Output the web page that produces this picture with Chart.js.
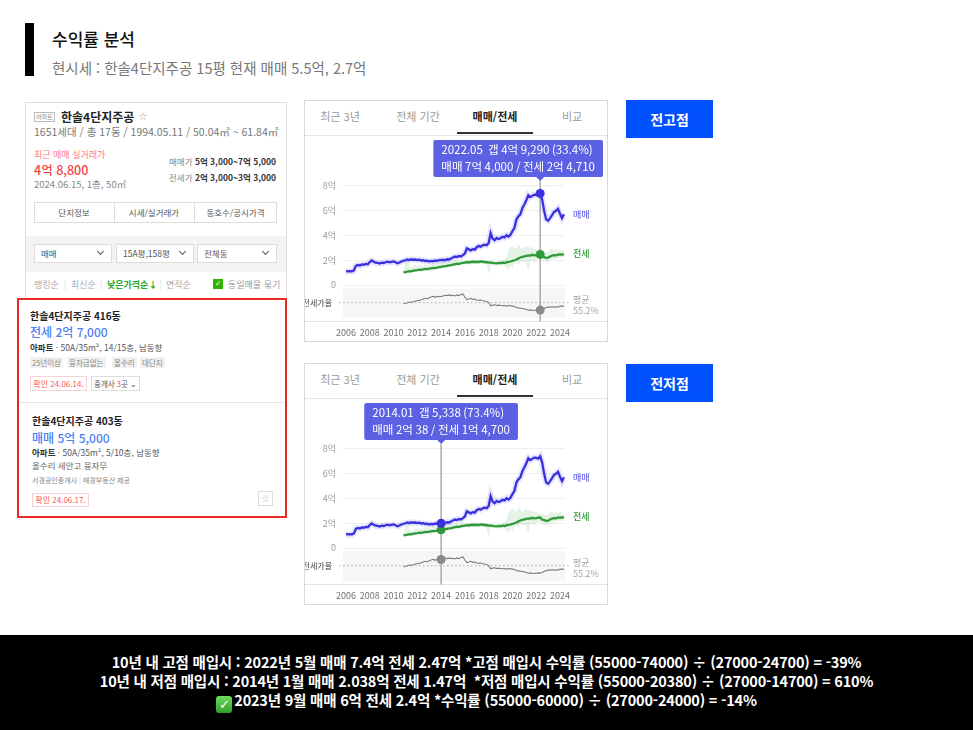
<!DOCTYPE html>
<html lang="ko"><head><meta charset="utf-8">
<script src="https://cdn.jsdelivr.net/npm/chart.js@4.4.1/dist/chart.umd.min.js"></script>
<style>
*{box-sizing:border-box;}
html,body{margin:0;padding:0;}
body{width:973px;height:730px;position:relative;overflow:hidden;background:#fff;font-family:'Noto Sans CJK KR','Noto Sans',sans-serif;color:#222;}
.a{position:absolute;white-space:nowrap;line-height:1;}
.card{position:absolute;left:304px;width:304px;height:242px;border:1px solid #d9d9d9;background:#fff;}
.tab{position:absolute;top:10px;width:80px;margin-left:-40px;text-align:center;font-size:11px;color:#9a9a9a;line-height:1;}
.tab.on{color:#222;font-weight:700;}
.uline{position:absolute;left:152px;top:31px;width:76px;height:2px;background:#333;}
.tsep{position:absolute;left:0;top:34px;width:100%;height:1px;background:#e6e6e6;}
.card canvas{position:absolute;left:0;top:36px;}
.btn{position:absolute;left:626px;width:87px;height:38px;background:#0050ff;color:#fff;font-weight:700;font-size:14px;line-height:38px;text-align:center;}
.box{position:absolute;border:1px solid #ddd;background:#fff;}
.sel{position:absolute;top:244px;height:19px;border:1px solid #ddd;background:#fff;font-size:8.5px;color:#555;line-height:17px;padding-left:6px;}
.chev{position:absolute;right:8px;top:4px;width:5px;height:5px;border-right:1.3px solid #555;border-bottom:1.3px solid #555;transform:rotate(45deg);}
.tag{position:absolute;top:357px;height:11px;background:#f1f1f1;color:#888;font-size:7.5px;line-height:11px;padding:0 2px;}
.bl{position:absolute;left:0;width:973px;text-align:center;color:#fff;font-weight:700;font-size:14.5px;line-height:1;letter-spacing:-0.2px;}
</style></head><body>

<!-- header -->
<div class="a" style="left:25px;top:23px;width:9px;height:53px;background:#000;"></div>
<div class="a" style="left:52px;top:29.5px;font-size:17px;font-weight:500;color:#111;">수익률 분석</div>
<div class="a" style="left:52px;top:60.5px;font-size:14.5px;color:#777;">현시세 : 한솔4단지주공 15평 현재 매매 5.5억, 2.7억</div>

<!-- left listing card -->
<div class="a" style="left:25px;top:102px;width:262px;height:416px;border:1px solid #ddd;background:#fff;"></div>
<div class="a" style="left:34px;top:112px;width:21px;height:10px;border:1px solid #bbb;font-size:6px;line-height:8px;color:#888;text-align:center;">아파트</div>
<div class="a" style="left:61px;top:111px;font-size:12px;font-weight:700;color:#222;">한솔4단지주공</div>
<div class="a" style="left:138px;top:111px;font-size:11px;color:#aaa;font-family:'DejaVu Sans';">☆</div>
<div class="a" style="left:34px;top:127px;font-size:10.5px;color:#777;">1651세대 / 총 17동 / 1994.05.11 / 50.04㎡ ~ 61.84㎡</div>
<div class="a" style="left:34px;top:149.5px;font-size:9px;color:#ff7b7b;">최근 매매 실거래가</div>
<div class="a" style="left:34px;top:163.5px;font-size:12.5px;font-weight:500;color:#f4433c;">4억 8,800</div>
<div class="a" style="left:34px;top:180px;font-size:9.5px;color:#888;">2024.06.15, 1층, 50㎡</div>
<div class="a" style="right:697px;top:157px;font-size:8.5px;color:#888;">매매가 <b style="color:#333;">5억 3,000~7억 5,000</b></div>
<div class="a" style="right:697px;top:173px;font-size:8.5px;color:#888;">전세가 <b style="color:#333;">2억 3,000~3억 3,000</b></div>
<div class="box" style="left:34px;top:202px;width:243px;height:21px;"></div>
<div class="a" style="left:114px;top:202px;width:1px;height:21px;background:#ddd;"></div>
<div class="a" style="left:194px;top:202px;width:1px;height:21px;background:#ddd;"></div>
<div class="a" style="left:34px;top:208px;width:80px;text-align:center;font-size:8.5px;color:#555;">단지정보</div>
<div class="a" style="left:114px;top:208px;width:80px;text-align:center;font-size:8.5px;color:#555;">시세/실거래가</div>
<div class="a" style="left:194px;top:208px;width:83px;text-align:center;font-size:8.5px;color:#555;">동호수/공시가격</div>
<div class="a" style="left:26px;top:236px;width:260px;height:36px;background:#f3f3f3;"></div>
<div class="sel" style="left:34px;width:78px;">매매<span class="chev"></span></div>
<div class="sel" style="left:116px;width:78px;">15A평,158평<span class="chev"></span></div>
<div class="sel" style="left:197px;width:80px;">전체동<span class="chev"></span></div>
<div class="a" style="left:34px;top:279.5px;font-size:9px;color:#aaa;">랭킹순</div>
<div class="a" style="left:64px;top:279.5px;font-size:9px;color:#ddd;">|</div>
<div class="a" style="left:71px;top:279.5px;font-size:9px;color:#aaa;">최신순</div>
<div class="a" style="left:100px;top:279.5px;font-size:9px;color:#ddd;">|</div>
<div class="a" style="left:107px;top:279.5px;font-size:9px;color:#27a827;font-weight:700;">낮은가격순↓</div>
<div class="a" style="left:159px;top:279.5px;font-size:9px;color:#ddd;">|</div>
<div class="a" style="left:166px;top:279.5px;font-size:9px;color:#aaa;">면적순</div>
<div class="a" style="left:213px;top:279px;width:10px;height:10px;background:#2db400;color:#fff;font-size:8px;line-height:10px;text-align:center;font-family:'DejaVu Sans';">✓</div>
<div class="a" style="left:228px;top:279.5px;font-size:9px;color:#999;">동일매물 묶기</div>

<!-- red highlighted listings -->
<div class="a" style="left:17px;top:298px;width:270px;height:220px;border:2.5px solid #ec2b24;background:#fff;"></div>
<div class="a" style="left:30px;top:311px;font-size:10px;font-weight:700;color:#222;">한솔4단지주공 416동</div>
<div class="a" style="left:30px;top:326px;font-size:12px;color:#4a7ef5;font-weight:500;">전세 2억 7,000</div>
<div class="a" style="left:30px;top:342.5px;font-size:8.5px;color:#555;"><b style="color:#333;">아파트</b> · 50A/35m², 14/15층, 남동향</div>
<div class="tag" style="left:30px;">25년이상</div>
<div class="tag" style="left:67px;">융자금없는</div>
<div class="tag" style="left:112px;">올수리</div>
<div class="tag" style="left:140px;">대단지</div>
<div class="a" style="left:30px;top:376px;width:57px;height:15px;border:1px solid #f3d3d3;font-size:8px;line-height:13px;color:#f55;text-align:center;">확인 24.06.14.</div>
<div class="a" style="left:91px;top:376px;width:49px;height:15px;border:1px solid #ddd;font-size:7.5px;line-height:13px;color:#555;text-align:center;">중개사 <span style="color:#f44;">3</span>곳 ⌄</div>
<div class="a" style="left:19px;top:402px;width:266px;height:1px;background:#e5e5e5;"></div>
<div class="a" style="left:32px;top:416px;font-size:10px;font-weight:700;color:#222;">한솔4단지주공 403동</div>
<div class="a" style="left:32px;top:432px;font-size:12px;color:#4a7ef5;font-weight:500;">매매 5억 5,000</div>
<div class="a" style="left:32px;top:448px;font-size:8.5px;color:#555;"><b style="color:#333;">아파트</b> · 50A/35m², 5/10층, 남동향</div>
<div class="a" style="left:32px;top:461px;font-size:8.5px;color:#666;">올수리 세안고 융자무</div>
<div class="a" style="left:32px;top:476.5px;font-size:7px;color:#888;">서경공인중개사 <span style="color:#ccc;">|</span> 매경부동산 제공</div>
<div class="a" style="left:32px;top:493px;width:57px;height:14px;border:1px solid #f3d3d3;font-size:8px;line-height:12px;color:#f55;text-align:center;">확인 24.06.17.</div>
<div class="a" style="left:258px;top:491px;width:15px;height:15px;border:1px solid #ddd;font-size:10px;line-height:13px;color:#aaa;text-align:center;font-family:'DejaVu Sans';">☆</div>

<!-- chart cards -->
<div class="card" style="top:100px;">
  <span class="tab" style="left:35px;">최근 3년</span>
  <span class="tab" style="left:113px;">전체 기간</span>
  <span class="tab on" style="left:190px;">매매/전세</span>
  <span class="tab" style="left:267px;">비교</span>
  <div class="uline"></div><div class="tsep"></div>
  <canvas id="c1" width="302" height="204"></canvas>
</div>
<div class="card" style="top:363px;">
  <span class="tab" style="left:35px;">최근 3년</span>
  <span class="tab" style="left:113px;">전체 기간</span>
  <span class="tab on" style="left:190px;">매매/전세</span>
  <span class="tab" style="left:267px;">비교</span>
  <div class="uline"></div><div class="tsep"></div>
  <canvas id="c2" width="302" height="204"></canvas>
</div>

<div class="btn" style="top:100px;">전고점</div>
<div class="btn" style="top:364px;">전저점</div>

<!-- bottom band -->
<div class="a" style="left:0;top:635px;width:973px;height:95px;background:#000;"></div>
<div class="bl" style="top:654.5px;">10년 내 고점 매입시 : 2022년 5월 매매 7.4억 전세 2.47억 *고점 매입시 수익률 (55000-74000) ÷ (27000-24700) = -39%</div>
<div class="bl" style="top:673.5px;">10년 내 저점 매입시 : 2014년 1월 매매 2.038억 전세 1.47억 &nbsp;*저점 매입시 수익률 (55000-20380) ÷ (27000-14700) = 610%</div>
<div class="bl" style="top:693px;"><span style="display:inline-block;width:16px;height:17px;border-radius:3px;background:linear-gradient(#6fdc5f,#2f9f2a);color:#fff;font-family:'DejaVu Sans';font-size:13px;line-height:17px;vertical-align:-3px;margin-right:2px;">✓</span>2023년 9월 매매 6억 전세 2.4억 *수익률 (55000-60000) ÷ (27000-24000) = -14%</div>

<script>
// ---------------- data (억 원 / %) ----------------
const months = [
 '2006.01','2006.03','2006.05','2006.07','2006.09','2006.11',
 '2007.01','2007.03','2007.05','2007.07','2007.09','2007.11',
 '2008.01','2008.03','2008.05','2008.07','2008.09','2008.11',
 '2009.01','2009.03','2009.05','2009.07','2009.09','2009.11',
 '2010.01','2010.03','2010.05','2010.07','2010.09','2010.11',
 '2011.01','2011.03','2011.05','2011.07','2011.09','2011.11',
 '2012.01','2012.03','2012.05','2012.07','2012.09','2012.11',
 '2013.01','2013.03','2013.05','2013.07','2013.09','2013.11',
 '2014.01','2014.03','2014.05','2014.07','2014.09','2014.11',
 '2015.01','2015.03','2015.05','2015.07','2015.09','2015.11',
 '2016.01','2016.03','2016.05','2016.07','2016.09','2016.11',
 '2017.01','2017.03','2017.05','2017.07','2017.09','2017.11',
 '2018.01','2018.03','2018.05','2018.07','2018.09','2018.11',
 '2019.01','2019.03','2019.05','2019.07','2019.09','2019.11',
 '2020.01','2020.03','2020.05','2020.07','2020.09','2020.11',
 '2021.01','2021.03','2021.05','2021.07','2021.09','2021.11',
 '2022.01','2022.03','2022.05','2022.07','2022.09','2022.11',
 '2023.01','2023.03','2023.05','2023.07','2023.09','2023.11',
 '2024.01','2024.03','2024.05'
];
const sale = [
 1.12,1.10,1.12,1.10,1.18,1.55,
 1.62,1.58,1.66,1.64,1.70,1.68,
 1.86,1.98,1.88,1.80,1.78,1.74,
 1.80,1.78,1.84,1.88,1.83,1.86,
 1.90,1.84,1.76,1.82,1.90,1.96,
 2.00,2.06,2.02,2.08,2.04,2.06,
 2.02,2.05,1.98,2.00,1.94,1.96,
 1.90,1.94,1.92,1.98,1.95,2.00,
 2.0038,2.04,2.00,2.08,2.06,2.14,
 2.22,2.30,2.26,2.34,2.30,2.42,
 2.55,2.96,2.88,2.80,2.90,2.86,
 3.05,3.15,3.10,3.20,3.26,3.22,
 3.40,4.20,3.75,3.62,3.80,3.72,
 3.78,3.90,3.84,4.02,3.92,4.06,
 4.35,4.60,5.30,5.55,5.70,6.20,
 6.50,6.85,7.25,7.10,7.20,7.30,
 7.28,7.22,7.40,6.90,6.00,5.30,
 5.20,5.40,5.65,5.90,6.00,6.15,
 5.75,5.40,5.72
];
const jeonseStart = '2010.11';
const jeonse = [
 1.02,
 1.05,1.08,1.12,1.10,1.16,1.18,
 1.20,1.24,1.22,1.27,1.30,1.28,
 1.32,1.35,1.38,1.36,1.40,1.44,
 1.47,1.50,1.52,1.55,1.58,1.60,
 1.64,1.68,1.72,1.70,1.76,1.78,
 1.80,1.84,1.82,1.86,1.88,1.86,
 1.88,1.86,1.90,1.88,1.86,1.84,
 1.82,1.80,1.78,1.76,1.75,1.78,
 1.76,1.80,1.78,1.82,1.86,1.90,
 1.95,2.00,2.06,2.15,2.22,2.28,
 2.32,2.36,2.40,2.38,2.44,2.40,
 2.42,2.45,2.471,2.30,2.25,2.20,
 2.22,2.30,2.38,2.42,2.40,2.46,
 2.48,2.45,2.50
];
const jeonseHigh = [
 1.30,
 1.90,2.20,1.50,1.40,1.50,1.60,
 1.50,1.60,1.50,1.60,1.70,1.60,
 1.60,1.70,1.80,1.70,1.80,1.80,
 1.80,1.90,1.80,1.90,2.00,1.90,
 1.90,2.00,2.00,1.90,2.00,2.00,
 2.00,2.05,2.00,2.05,2.10,2.05,
 2.05,2.00,2.05,2.00,2.00,2.00,
 1.95,1.95,1.90,1.90,1.90,1.95,
 1.95,2.00,2.10,2.30,2.80,3.00,
 3.20,3.00,2.90,3.30,3.10,2.90,
 3.00,3.20,3.00,3.10,3.00,2.90,
 2.90,2.80,2.70,2.80,2.70,2.60,
 2.70,2.90,3.00,2.80,2.90,2.80,
 2.90,2.80,2.80
];
const jeonseLow = [
 0.95,
 0.95,1.00,1.00,0.95,1.05,1.05,
 1.10,1.10,1.10,1.15,1.15,1.15,
 1.20,1.00,1.25,1.25,1.30,1.30,
 1.35,1.40,1.40,1.40,1.45,1.45,
 1.50,1.55,1.55,1.55,1.60,1.60,
 1.65,1.65,1.65,1.70,1.70,1.70,
 1.70,1.70,1.70,1.70,1.65,1.65,
 0.80,1.60,1.60,1.60,1.55,1.60,
 1.60,1.60,1.60,1.40,1.20,1.60,
 1.30,1.70,1.80,1.60,1.90,1.80,
 1.90,1.70,1.10,1.90,2.00,1.80,
 2.00,2.10,2.10,2.00,1.90,1.90,
 1.90,2.00,2.10,2.10,2.10,2.20,
 2.20,2.20,2.30
];
const jeonseRatio = [
 52,
 53,55,57,56,58,60,
 61,62,64,66,68,67,
 70,72,74,71,74,73,
 73.4,75,77,76,78,76,
 77,75,78,76,79,81,
 72,64,66,68,65,66,
 63,62,63,61,60,58,
 56,46,48,49,47,48,
 47,46,47,45,47,46,
 45,44,41,40,39,38,
 37,35,33,34,32,33,
 33,34,33.4,35,38,41,
 42,42,43,42,43,42,
 45,45,44
];
const avgRatio = 55.2;
const yTickValues = [0,2,4,6,8];
const yTickLabels = ['0','2억','4억','6억','8억'];
const xTickYears = [2006,2008,2010,2012,2014,2016,2018,2020,2022,2024];
const seriesNames = ['매매','전세'];
const avgLabels = ['평균','55.2%'];
const ratioAxisLabel = '전세가율';
const highlight1 = {month:'2022.05', lines:['2022.05  갭 4억 9,290 (33.4%)','매매 7억 4,000 / 전세 2억 4,710']};
const highlight2 = {month:'2014.01', lines:['2014.01  갭 5,338 (73.4%)','매매 2억 38 / 전세 1억 4,700']};

// ---------------- chart ----------------
const FONT = "'Noto Sans CJK KR','Noto Sans',sans-serif";
Chart.defaults.font.family = FONT;
const SALE_C = '#3a30df', JEON_C = '#2f9a3a', RATIO_C = '#7c7c7c';
function toYear(m){const p=m.split('.').map(Number);return p[0]+(p[1]-1)/12;}
const xs = months.map(toYear);
const jIdx = months.indexOf(jeonseStart);
const xsJ = xs.slice(jIdx);
const pts = (xa, va) => va.map((v,i)=>({x:xa[i], y:v}));

function overlay(hl){
  const hi = months.indexOf(hl.month);
  const hx = xs[hi];
  return {
    id:'overlay',
    beforeDatasetsDraw(chart){
      const {ctx, chartArea:ca, scales} = chart;
      const yr = scales.yr;
      ctx.save();
      ctx.fillStyle = '#f6f6f6';
      ctx.fillRect(ca.left, yr.top + 1, ca.right - ca.left, yr.bottom - yr.top - 1);
      const ya = yr.getPixelForValue(avgRatio);
      ctx.strokeStyle = '#b0b0b0'; ctx.lineWidth = 1; ctx.setLineDash([1.5,2.5]);
      ctx.beginPath(); ctx.moveTo(ca.left - 4, ya); ctx.lineTo(ca.right + 6, ya); ctx.stroke();
      ctx.setLineDash([]);
      ctx.strokeStyle = '#e4e4e4';
      ctx.beginPath(); ctx.moveTo(0, ca.bottom + 3.5); ctx.lineTo(chart.width, ca.bottom + 3.5); ctx.stroke();
      const px = scales.x.getPixelForValue(hx);
      ctx.strokeStyle = '#a9a9a9'; ctx.lineWidth = 1.5;
      ctx.beginPath(); ctx.moveTo(px, ca.top); ctx.lineTo(px, ca.bottom + 3.5); ctx.stroke();
      ctx.restore();
    },
    afterDatasetsDraw(chart){
      const {ctx, chartArea:ca, scales} = chart;
      const px = scales.x.getPixelForValue(hx);
      ctx.save();
      const dot = (y, c) => { ctx.fillStyle = c; ctx.beginPath(); ctx.arc(px, y, 4.5, 0, Math.PI*2); ctx.fill(); };
      dot(scales.yr.getPixelForValue(jeonseRatio[hi - jIdx]), '#8a8a8a');
      dot(scales.y.getPixelForValue(jeonse[hi - jIdx]), JEON_C);
      dot(scales.y.getPixelForValue(sale[hi]), SALE_C);
      ctx.font = '9px ' + FONT; ctx.textBaseline = 'middle'; ctx.textAlign = 'left';
      const lx = ca.right + 8;
      ctx.fillStyle = '#4a44e6';
      ctx.fillText(seriesNames[0], lx, scales.y.getPixelForValue(sale[sale.length-1]));
      ctx.fillStyle = JEON_C;
      ctx.font = '500 9px ' + FONT;
      ctx.fillText(seriesNames[1], lx, scales.y.getPixelForValue(jeonse[jeonse.length-1]));
      ctx.font = '9px ' + FONT; ctx.fillStyle = '#a5a5a5';
      const ya = scales.yr.getPixelForValue(avgRatio);
      ctx.fillText(avgLabels[0], lx, ya - 3.5);
      ctx.fillText(avgLabels[1], lx, ya + 7.5);
      ctx.restore();
    },
    afterDraw(chart){
      const {ctx, scales} = chart;
      const px = scales.x.getPixelForValue(hx);
      ctx.save();
      ctx.font = '11.5px ' + FONT;
      const w = Math.max(...hl.lines.map(l => ctx.measureText(l).width)) + 16;
      const h = 37, top = 3;
      let left = px - w/2;
      left = Math.max(4, Math.min(chart.width - 4 - w, left));
      ctx.fillStyle = '#5b61e2';
      ctx.beginPath(); ctx.roundRect(left, top, w, h, 2); ctx.fill();
      ctx.beginPath(); ctx.moveTo(px - 4, top + h); ctx.lineTo(px + 4, top + h); ctx.lineTo(px, top + h + 4); ctx.closePath(); ctx.fill();
      ctx.fillStyle = '#fff'; ctx.textBaseline = 'middle'; ctx.textAlign = 'left';
      ctx.fillText(hl.lines[0], left + 8, top + 10);
      ctx.fillText(hl.lines[1], left + 8, top + 26.5);
      ctx.restore();
    }
  };
}

function makeChart(id, hl){
  new Chart(document.getElementById(id), {
    type:'line',
    data:{datasets:[
      {data:pts(xs, sale), borderColor:SALE_C, borderWidth:2.3, pointRadius:0, tension:0, order:1},
      {data:pts(xs, sale), borderColor:'rgba(90,90,240,0.16)', borderWidth:6, pointRadius:0, order:2},
      {data:pts(xsJ, jeonse), borderColor:JEON_C, borderWidth:2.3, pointRadius:0, order:3},
      {data:pts(xsJ, jeonseRatio), yAxisID:'yr', borderColor:RATIO_C, borderWidth:1.1, pointRadius:0, order:4},
      {data:pts(xsJ, jeonseHigh), borderWidth:0, borderColor:'rgba(0,0,0,0)', pointRadius:0, fill:'+1', backgroundColor:'rgba(70,170,80,0.14)', order:5},
      {data:pts(xsJ, jeonseLow), borderWidth:0, borderColor:'rgba(0,0,0,0)', pointRadius:0, fill:false, order:6}
    ]},
    options:{
      responsive:false, animation:false, events:[],
      layout:{padding:{top:44, right:42, left:0, bottom:0}},
      plugins:{legend:{display:false}, tooltip:{enabled:false}},
      scales:{
        x:{type:'linear', min:2005.75, max:2024.42,
           grid:{display:false, drawTicks:false}, border:{display:false},
           afterBuildTicks:s=>{s.ticks = xTickYears.map(v=>({value:v}));},
           afterFit:s=>{s.height = 23;},
           ticks:{autoSkip:false, maxRotation:0, padding:9, color:'#707070', font:{size:9}, callback:v=>String(v)}},
        y:{type:'linear', position:'left', stack:'v', stackWeight:106.5, weight:1, min:-0.2, max:8.4,
           grid:{color:'#efefef', drawTicks:false}, border:{display:false},
           afterBuildTicks:s=>{s.ticks = yTickValues.map(v=>({value:v}));},
           afterFit:s=>{s.width = 38;},
           ticks:{padding:7, color:'#9a9a9a', font:{size:9}, callback:v=>yTickLabels[yTickValues.indexOf(v)]}},
        yr:{type:'linear', position:'left', stack:'v', stackWeight:30.5, weight:0, min:10, max:100,
           grid:{display:false}, border:{display:false},
           afterBuildTicks:s=>{s.ticks = [{value:avgRatio}];},
           afterFit:s=>{s.width = 38;},
           ticks:{padding:3, color:'#444', font:{size:8}, callback:()=>ratioAxisLabel}}
      }
    },
    plugins:[overlay(hl)]
  });
}
makeChart('c1', highlight1);
makeChart('c2', highlight2);
</script>
</body></html>
